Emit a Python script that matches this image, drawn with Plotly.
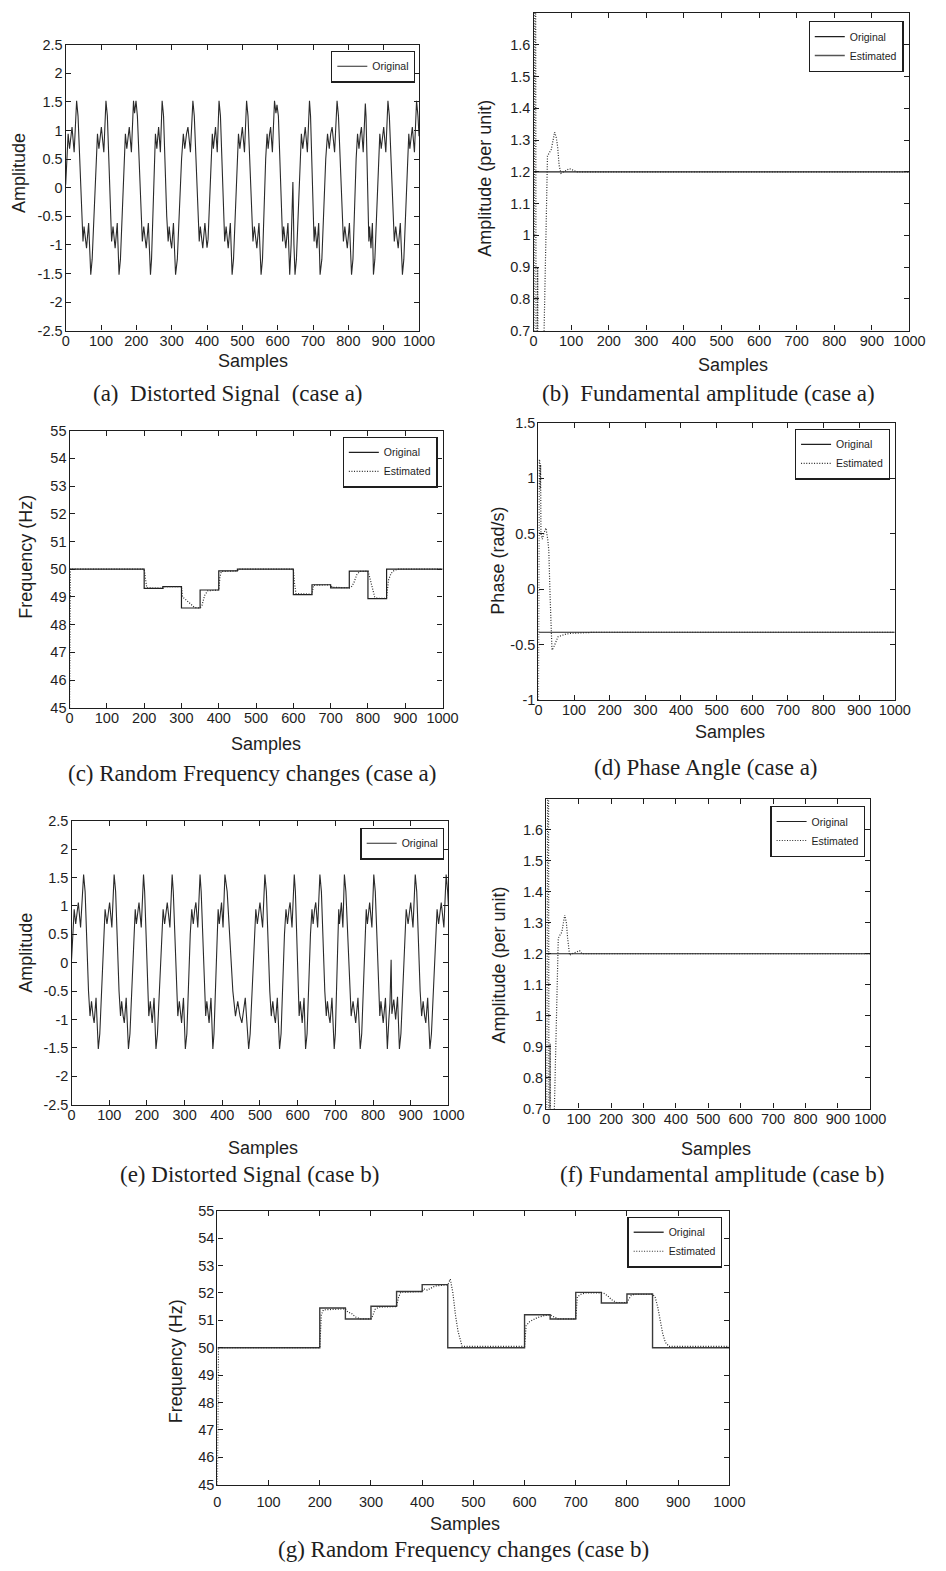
import plotly.graph_objects as go

W, H = 946, 1571

# ---------------- data ----------------
samples_ticks = [0, 100, 200, 300, 400, 500, 600, 700, 800, 900, 1000]

# (a) distorted signal, case a (polyline vertices)
sig_a_x = [0, 3, 7, 11, 15, 18, 24,
           31, 35, 42, 45, 49, 52, 56, 59, 65,
           71, 75, 83, 86, 90, 94, 98, 101, 108,
           114, 118, 124, 127, 130, 134, 137, 140, 146,
           151, 155, 162, 165, 169, 173, 177, 180, 186,
           192, 195,
           199, 203, 210, 213, 217, 221, 225, 228, 234,
           240, 243, 249, 251, 254, 258, 261, 263, 268,
           273, 277, 283, 286, 290, 293, 297, 300, 305,
           311, 316, 324, 328, 333, 337, 342, 346, 353,
           360, 364, 371, 374, 378, 381, 385, 388, 394,
           400, 403, 409, 412, 415, 418, 422, 424, 429,
           434, 438, 444, 447, 450, 454, 457, 460, 466,
           471, 475, 482, 485, 489, 493, 497, 500, 506,
           512, 516, 523, 526, 530, 534, 538, 541, 547,
           553, 557, 563, 566, 570, 573, 577, 580, 585,
           591, 595,
           598, 602, 608, 610, 614, 617, 621, 623, 629,
           634, 638, 643, 646,
           649, 653, 660, 663, 667, 671, 675, 678, 684,
           690, 693, 698, 700, 703, 706, 709, 711, 716,
           720, 725, 733, 736, 741, 746, 750, 754, 761,
           768, 772, 779, 782, 786, 790, 794, 797, 803,
           809, 813, 819, 822, 826, 830, 834, 837, 842,
           848, 850, 854, 856, 858, 860, 863, 864, 868,
           871, 875, 882, 885, 889, 893, 897, 900, 906,
           912, 916, 923, 926, 930, 934, 938, 941, 947,
           953, 957, 964, 967, 971, 974, 978, 981, 987,
           993, 997, 1000]
sig_a_y = [0.05, 0.5, 0.94, 0.68, 0.94, 1.06, 0.62,
           1.52, 1.25, 0, -0.5, -0.94, -0.68, -0.94, -1.06, -0.62,
           -1.52, -1.25, 0, 0.5, 0.94, 0.68, 0.94, 1.06, 0.62,
           1.52, 1.25, 0, -0.5, -0.94, -0.68, -0.94, -1.06, -0.62,
           -1.52, -1.25, 0, 0.5, 0.94, 0.68, 0.94, 1.06, 0.62,
           1.52, 1.3,
           1.52, 1.25, 0, -0.5, -0.94, -0.68, -0.94, -1.06, -0.62,
           -1.52, -1.25, 0, 0.5, 0.94, 0.68, 0.94, 1.06, 0.62,
           1.52, 1.25, 0, -0.5, -0.94, -0.68, -0.94, -1.06, -0.62,
           -1.52, -1.25, 0, 0.5, 0.94, 0.68, 0.94, 1.06, 0.62,
           1.52, 1.25, 0, -0.5, -0.94, -0.68, -0.94, -1.06, -0.62,
           -1.05, -0.9, 0, 0.5, 0.94, 0.68, 0.94, 1.06, 0.62,
           1.52, 1.25, 0, -0.5, -0.94, -0.68, -0.94, -1.06, -0.62,
           -1.52, -1.25, 0, 0.5, 0.94, 0.68, 0.94, 1.06, 0.62,
           1.52, 1.25, 0, -0.5, -0.94, -0.68, -0.94, -1.06, -0.62,
           -1.52, -1.25, 0, 0.5, 0.94, 0.68, 0.94, 1.06, 0.62,
           1.52, 1.3,
           1.45, 1.25, 0, -0.5, -0.94, -0.68, -0.94, -1.06, -0.62,
           -1.52, -1.0, 0.1, -1.0,
           -1.52, -1.25, 0, 0.5, 0.94, 0.68, 0.94, 1.06, 0.62,
           1.52, 1.25, 0, -0.5, -0.94, -0.68, -0.94, -1.06, -0.62,
           -1.52, -1.25, 0, 0.5, 0.94, 0.68, 0.94, 1.06, 0.62,
           1.52, 1.25, 0, -0.5, -0.94, -0.68, -0.94, -1.06, -0.62,
           -1.52, -1.25, 0, 0.5, 0.94, 0.68, 0.94, 1.06, 0.62,
           1.47, 1.25, 0, -0.5, -0.94, -0.68, -0.94, -1.06, -0.62,
           -1.52, -1.25, 0, 0.5, 0.94, 0.68, 0.94, 1.06, 0.62,
           1.52, 1.25, 0, -0.5, -0.94, -0.68, -0.94, -1.06, -0.62,
           -1.52, -1.25, 0, 0.5, 0.94, 0.68, 0.94, 1.06, 0.62,
           1.52, 1.25, 0.9]

# (e) distorted signal, case b
sig_e_x = [0, 3, 7, 11, 15, 18, 24,
           32, 36, 42, 45, 49, 53, 57, 60, 65,
           71, 75, 82, 85, 89, 94, 98, 101, 107,
           113, 117, 123, 126, 130, 133, 137, 140, 145,
           151, 155, 162, 165, 169, 172, 176, 179, 185,
           191, 194, 200, 202, 205, 209, 212, 214, 219,
           224, 228, 236, 239, 243, 247, 251, 254, 261,
           267, 270, 276, 279, 282, 286, 289, 292, 297,
           302, 306, 312, 315, 319, 323, 327, 330, 335,
           341, 344, 350, 353, 356, 359, 363, 365, 370,
           375, 378, 384, 386, 389, 392, 395, 398, 402,
           407, 413, 424, 428, 435, 441, 447, 452, 461,
           470, 474, 482, 485, 489, 493, 497, 500, 507,
           513, 517, 523, 526, 530, 534, 538, 541, 546,
           552, 556, 562, 565, 569, 573, 577, 580, 585,
           591, 594, 599, 601, 604, 607, 610, 612, 617,
           621, 625, 631, 634, 638, 641, 645, 648, 653,
           659, 663, 669, 672, 676, 679, 683, 686, 691,
           697, 700, 704, 706, 709, 711, 714, 716, 720,
           724, 728, 735, 738, 742, 747, 751, 754, 760,
           766, 770, 776, 778, 782, 785, 789, 791, 797,
           802, 806, 812, 814, 818, 821, 825, 827, 833,
           838, 842, 845, 848, 850, 855, 860, 865,
           870, 874, 881, 884, 888, 893, 897, 900, 906,
           912, 916, 922, 925, 929, 933, 937, 940, 945,
           951, 955, 963, 966, 970, 974, 978, 981, 988,
           994, 998, 1000]
sig_e_y = [0.05, 0.5, 0.94, 0.68, 0.94, 1.06, 0.62,
           1.55, 1.25, 0, -0.5, -0.94, -0.68, -0.94, -1.06, -0.62,
           -1.52, -1.25, 0, 0.5, 0.94, 0.68, 0.94, 1.06, 0.62,
           1.55, 1.25, 0, -0.5, -0.94, -0.68, -0.94, -1.06, -0.62,
           -1.52, -1.25, 0, 0.5, 0.94, 0.68, 0.94, 1.06, 0.62,
           1.55, 1.25, 0, -0.5, -0.94, -0.68, -0.94, -1.06, -0.62,
           -1.52, -1.25, 0, 0.5, 0.94, 0.68, 0.94, 1.06, 0.62,
           1.55, 1.25, 0, -0.5, -0.94, -0.68, -0.94, -1.06, -0.62,
           -1.52, -1.25, 0, 0.5, 0.94, 0.68, 0.94, 1.06, 0.62,
           1.55, 1.25, 0, -0.5, -0.94, -0.68, -0.94, -1.06, -0.62,
           -1.52, -1.25, 0, 0.5, 0.94, 0.68, 0.94, 1.06, 0.62,
           1.55, 1.25, 0, -0.5, -0.94, -0.68, -0.94, -1.06, -0.62,
           -1.52, -1.25, 0, 0.5, 0.94, 0.68, 0.94, 1.06, 0.62,
           1.55, 1.25, 0, -0.5, -0.94, -0.68, -0.94, -1.06, -0.62,
           -1.52, -1.25, 0, 0.5, 0.94, 0.68, 0.94, 1.06, 0.62,
           1.55, 1.25, 0, -0.5, -0.94, -0.68, -0.94, -1.06, -0.62,
           -1.52, -1.25, 0, 0.5, 0.94, 0.68, 0.94, 1.06, 0.62,
           1.55, 1.25, 0, -0.5, -0.94, -0.68, -0.94, -1.06, -0.62,
           -1.52, -1.25, 0, 0.5, 0.94, 0.68, 0.94, 1.06, 0.62,
           1.55, 1.25, 0, -0.5, -0.94, -0.68, -0.94, -1.06, -0.62,
           -1.52, -1.25, 0, 0.5, 0.94, 0.68, 0.94, 1.06, 0.62,
           1.55, 1.25, 0, -0.5, -0.94, -0.68, -0.94, -1.06, -0.62,
           -1.52, -1.0, -0.7, 0.05, -0.9, -0.65, -1.0, -0.6,
           -1.52, -1.25, 0, 0.5, 0.94, 0.68, 0.94, 1.06, 0.62,
           1.55, 1.25, 0, -0.5, -0.94, -0.68, -0.94, -1.06, -0.62,
           -1.52, -1.25, 0, 0.5, 0.94, 0.68, 0.94, 1.06, 0.62,
           1.55, 1.25, 1.0]

# (b) fundamental amplitude, case a
amp_a_orig_x = [0, 1000]
amp_a_orig_y = [1.2, 1.2]
amp_a_est_x = [0, 3, 5, 7, 11, 13, 24, 28, 33, 37, 42, 47, 52, 56, 60, 64, 68, 73,
               80, 88, 95, 100, 107, 115, 200, 300, 400, 500, 600, 700, 800, 900, 1000]
amp_a_est_y = [0.2, 2.5, 2.5, 0.0, 0.9, 0.0, 0.3, 0.7, 1.0, 1.25, 1.26, 1.27, 1.30, 1.325, 1.31, 1.28, 1.22, 1.195,
               1.2, 1.205, 1.21, 1.208, 1.203, 1.2, 1.2, 1.2, 1.2, 1.2, 1.2, 1.2, 1.2, 1.2, 1.2]

# (f) fundamental amplitude, case b
amp_b_orig_x = [0, 1000]
amp_b_orig_y = [1.2, 1.2]
amp_b_est_x = [0, 4, 6, 9, 12, 14, 25, 30, 37, 42, 48, 57, 62, 66, 72, 80, 95, 103, 110,
               200, 300, 400, 500, 600, 700, 800, 900, 1000]
amp_b_est_y = [0.2, 2.5, 2.5, 0.0, 0.91, 0.0, 0.7, 0.95, 1.25, 1.26, 1.27, 1.325, 1.30, 1.25, 1.195, 1.2, 1.205, 1.21, 1.2,
               1.2, 1.2, 1.2, 1.2, 1.2, 1.2, 1.2, 1.2, 1.2]

# (c) frequency, case a
freq_a_steps_x = [0, 200, 250, 300, 350, 400, 450, 600, 650, 700, 750, 800, 850, 1000]
freq_a_steps_y = [50, 49.31, 49.37, 48.6, 49.25, 49.94, 50, 49.08, 49.44, 49.33, 49.93, 48.94, 50, 50]
freq_a_est_x = [0, 1, 2, 200, 203, 207, 250, 253, 300, 303, 310, 320, 335, 350, 355, 362, 370, 400, 403, 407,
                450, 453, 600, 603, 607, 650, 654, 700, 704, 750, 755, 762, 770, 778, 800, 803, 810, 818, 825,
                850, 855, 862, 870, 880, 1000]
freq_a_est_y = [45, 48, 50, 50, 49.6, 49.33, 49.31, 49.37, 49.37, 49.0, 48.92, 48.8, 48.62, 48.6, 48.7, 49.05, 49.22,
                49.25, 49.7, 49.92, 49.94, 50, 50, 49.5, 49.12, 49.1, 49.42, 49.44, 49.35, 49.33, 49.35, 49.5, 49.8,
                49.92, 49.93, 49.8, 49.4, 49.0, 48.95, 48.95, 49.6, 49.85, 49.95, 50, 50]

# (d) phase angle, case a
phase_orig_x = [0, 1000]
phase_orig_y = [-0.39, -0.39]
phase_est_x = [0, 2, 3, 4, 5, 6, 7, 9, 11, 15, 21, 26, 29, 33, 38, 42, 46, 55, 65, 73, 90, 120, 160, 1000]
phase_est_y = [-1.0, 1.17, 0.6, 1.15, 0.9, 1.12, 0.5, 0.45, 0.45, 0.5, 0.55, 0.45, 0.35, -0.1, -0.55, -0.53, -0.5,
               -0.43, -0.42, -0.41, -0.4, -0.395, -0.39, -0.39]

# (g) frequency, case b
freq_b_steps_x = [0, 200, 250, 300, 350, 400, 450, 600, 650, 700, 750, 800, 850, 1000]
freq_b_steps_y = [50, 51.45, 51.05, 51.51, 52.05, 52.3, 50, 51.2, 51.05, 52.02, 51.63, 51.96, 50, 50]
freq_b_est_x = [0, 1, 2, 200, 203, 207, 250, 255, 262, 270, 280, 300, 303, 308, 315, 350, 354, 358, 400, 403, 410,
                425, 450, 455, 460, 465, 470, 478, 600, 603, 610, 625, 640, 650, 655, 665, 700, 703, 710, 720, 750,
                755, 762, 770, 780, 800, 803, 808, 815, 850, 855, 860, 865, 870, 875, 882, 1000]
freq_b_est_y = [45, 48, 50, 50, 51.2, 51.38, 51.42, 51.3, 51.25, 51.12, 51.05, 51.05, 51.15, 51.4, 51.48, 51.5, 51.85,
                52.02, 52.05, 52.15, 52.1, 52.25, 52.3, 52.5, 52.0, 51.2, 50.6, 50.05, 50.05, 50.8, 50.95, 51.1,
                51.18, 51.2, 51.15, 51.05, 51.05, 51.85, 51.95, 52.0, 52.0, 51.98, 51.9, 51.75, 51.65, 51.65, 51.75,
                51.9, 51.95, 51.95, 51.85, 51.5, 51.0, 50.5, 50.2, 50.05, 50.05]

amp_ticks = [0.7, 0.8, 0.9, 1.0, 1.1, 1.2, 1.3, 1.4, 1.5, 1.6]
amp_ticktext = ["0.7", "0.8", "0.9", "1", "1.1", "1.2", "1.3", "1.4", "1.5", "1.6"]
sig_ticks = [-2.5, -2, -1.5, -1, -0.5, 0, 0.5, 1, 1.5, 2, 2.5]
sig_ticktext = ["-2.5", "-2", "-1.5", "-1", "-0.5", "0", "0.5", "1", "1.5", "2", "2.5"]
freq_ticks = [45, 46, 47, 48, 49, 50, 51, 52, 53, 54, 55]
phase_ticks = [-1, -0.5, 0, 0.5, 1, 1.5]
phase_ticktext = ["-1", "-0.5", "0", "0.5", "1", "1.5"]

# ---------------- layout helpers ----------------
SANS = "Liberation Sans, Arial, Helvetica, sans-serif"
SERIF = "Liberation Serif, Times New Roman, serif"
INK = "#1e1e1e"
NB = "\u00a0"

fig = go.Figure()

panels = {
    # name: (left, right, top, bottom) in px
    1: (63, 424, 37, 326),     # a
    2: (541, 925, 5, 326),     # b
    3: (67, 448, 427, 707),    # c
    4: (546, 910, 419, 699),   # d
    5: (69, 454, 821, 1108),   # e
    6: (554, 885, 799, 1112),  # f
    7: (218, 741, 1215, 1492), # g
}

yspecs = {
    1: dict(range=[-2.5, 2.5], tickvals=sig_ticks, ticktext=sig_ticktext),
    2: dict(range=[0.7, 1.7], tickvals=amp_ticks, ticktext=amp_ticktext),
    3: dict(range=[45, 55], tickvals=freq_ticks),
    4: dict(range=[-1, 1.5], tickvals=phase_ticks, ticktext=phase_ticktext),
    5: dict(range=[-2.5, 2.5], tickvals=sig_ticks, ticktext=sig_ticktext),
    6: dict(range=[0.7, 1.7], tickvals=amp_ticks, ticktext=amp_ticktext),
    7: dict(range=[45, 55], tickvals=freq_ticks),
}

axis_common = dict(showline=True, linecolor=INK, linewidth=1.4, mirror="ticks", ticks="inside",
                   ticklen=5, tickcolor=INK, tickwidth=1, showgrid=False, zeroline=False,
                   tickfont=dict(family=SANS, size=14.5, color=INK))

lay = {}
for i, (l, r, t, b) in panels.items():
    sx = "" if i == 1 else str(i)
    lay["xaxis" + sx] = dict(domain=[l / W, r / W], range=[0, 1000], tickvals=samples_ticks,
                             anchor="y" + sx, ticklabelstandoff=(4 if i == 7 else -3), **axis_common)
    lay["yaxis" + sx] = dict(domain=[1 - b / H, 1 - t / H], anchor="x" + sx, ticklabelstandoff=-1,
                             **yspecs[i], **axis_common)

fig.update_layout(**lay)

ORIG = dict(color="#202020", width=1.2)
EST = dict(color="#2a2a2a", width=1.2, dash="1px,1.6px")


def add(i, x, y, name, line, legend, show=True, shape=None):
    sx = "" if i == 1 else str(i)
    kw = dict(x=x, y=y, mode="lines", name=name, line=line, xaxis="x" + sx, yaxis="y" + sx,
              showlegend=show, legend=legend)
    if shape:
        kw["line_shape"] = shape
    fig.add_trace(go.Scatter(**kw))


# (a)
add(1, sig_a_x, sig_a_y, "Original", dict(color="#2a2a2a", width=1.1), "legend")
# (b)
add(2, amp_a_orig_x, amp_a_orig_y, "Original", ORIG, "legend2")
add(2, amp_a_est_x, amp_a_est_y, "Estimated", EST, "legend2", show=False)
add(2, [None], [None], "Estimated", dict(color="#555555", width=1.4), "legend2")
# (c)
add(3, freq_a_steps_x, freq_a_steps_y, "Original", ORIG, "legend3", shape="hv")
add(3, freq_a_est_x, freq_a_est_y, "Estimated", EST, "legend3")
# (d)
add(4, phase_orig_x, phase_orig_y, "Original", ORIG, "legend4")
add(4, phase_est_x, phase_est_y, "Estimated", EST, "legend4")
# (e)
add(5, sig_e_x, sig_e_y, "Original", dict(color="#2a2a2a", width=1.1), "legend5")
# (f)
add(6, amp_b_orig_x, amp_b_orig_y, "Original", ORIG, "legend6")
add(6, amp_b_est_x, amp_b_est_y, "Estimated", EST, "legend6")
# (g)
add(7, freq_b_steps_x, freq_b_steps_y, "Original", dict(color="#3a3a3a", width=1.4), "legend7", shape="hv")
add(7, freq_b_est_x, freq_b_est_y, "Estimated", EST, "legend7")

# legends: (right px, top px)
legpos = {"legend": (420, 43), "legend2": (919, 13), "legend3": (443, 433), "legend4": (905, 425),
          "legend5": (450, 828), "legend6": (880, 806), "legend7": (734, 1221)}
for k, (rx, ty) in legpos.items():
    fig.update_layout({k: dict(x=rx / W, y=1 - ty / H, xanchor="right", yanchor="top",
                               bgcolor="white", bordercolor=INK, borderwidth=1.2,
                               font=dict(family=SANS, size=10.5, color=INK),
                               tracegroupgap=0, itemwidth=30)})

ann = []


def text(x, y, s, size, family, angle=0):
    ann.append(dict(x=x / W, y=1 - y / H, xref="paper", yref="paper", text=s, showarrow=False,
                    xanchor="center", yanchor="middle", textangle=angle,
                    font=dict(family=family, size=size, color=INK)))


# Samples labels
for (x, y) in [(254, 357), (745, 361), (268, 744), (742, 731), (265, 1152), (727, 1153), (471, 1532)]:
    text(x, y, "Samples", 18, SANS)
# y labels
text(16, 167, "Amplitude", 18, SANS, -90)
text(492, 172, "Amplitude (per unit)", 18, SANS, -90)
text(23, 555, "Frequency (Hz)", 18, SANS, -90)
text(505, 558, "Phase (rad/s)", 18, SANS, -90)
text(23, 955, "Amplitude", 18, SANS, -90)
text(506, 967, "Amplitude (per unit)", 18, SANS, -90)
text(176, 1367, "Frequency (Hz)", 18, SANS, -90)
# captions
text(229, 389, "(a)" + NB + " Distorted Signal" + NB + " (case a)", 23, SERIF)
text(720, 389, "(b)" + NB + " Fundamental amplitude (case a)", 23, SERIF)
text(253, 773, "(c) Random Frequency changes (case a)", 23, SERIF)
text(717, 767, "(d) Phase Angle (case a)", 23, SERIF)
text(251, 1178, "(e) Distorted Signal (case b)", 23, SERIF)
text(734, 1178, "(f) Fundamental amplitude (case b)", 23, SERIF)
text(469, 1557, "(g) Random Frequency changes (case b)", 23, SERIF)

fig.update_layout(width=W, height=H, margin=dict(l=0, r=0, t=0, b=0),
                  paper_bgcolor="white", plot_bgcolor="white", annotations=ann)

fig.write_html("out.html")
